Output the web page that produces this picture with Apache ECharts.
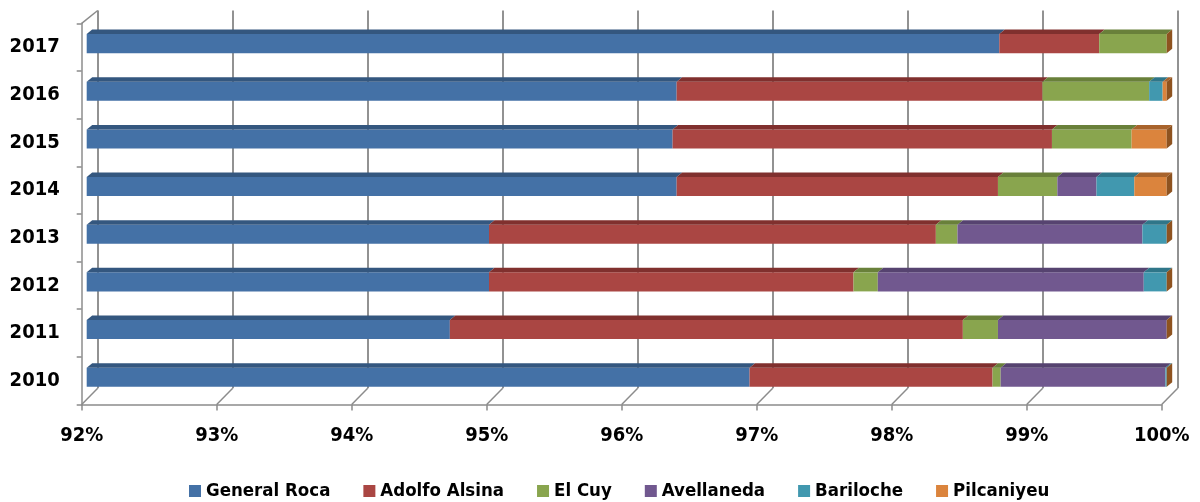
<!DOCTYPE html>
<html>
<head>
<meta charset="utf-8">
<script src="https://cdn.jsdelivr.net/npm/echarts@6/dist/echarts.min.js"></script>
<style>
  html, body { margin: 0; padding: 0; background: #fff; }
  #chart { width: 1200px; height: 502px; }
</style>
</head>
<body>
<div id="chart"></div>
<script>
// ---- data ----
const years = ['2010', '2011', '2012', '2013', '2014', '2015', '2016', '2017'];
const seriesNames = ['General Roca', 'Adolfo Alsina', 'El Cuy', 'Avellaneda', 'Bariloche', 'Pilcaniyeu'];
const generalRoca  = [96.91, 94.69, 94.98, 94.98, 96.37, 96.34, 96.37, 98.76];
const adolfoAlsina = [1.80, 3.80, 2.70, 3.31, 2.38, 2.81, 2.71, 0.74];
const elCuy        = [0.06, 0.26, 0.18, 0.16, 0.44, 0.59, 0.79, 0.50];
const avellaneda   = [1.22, 1.25, 1.97, 1.37, 0.29, 0.00, 0.00, 0.00];
const bariloche    = [0.01, 0.00, 0.17, 0.18, 0.28, 0.00, 0.10, 0.00];
const pilcaniyeu   = [0.00, 0.00, 0.00, 0.00, 0.24, 0.26, 0.03, 0.00];
const xTicks = [92, 93, 94, 95, 96, 97, 98, 99, 100];

const allValues = [generalRoca, adolfoAlsina, elCuy, avellaneda, bariloche, pilcaniyeu];

// ---- styles ----
const frontColors = ['#4471A6', '#AA4643', '#89A54E', '#71588F', '#4198AF', '#DB843D'];
const topColors   = ['#34577F', '#80302E', '#69803A', '#564370', '#2F7689', '#A8632C'];
const sideColors  = ['#2C4A6D', '#6E2826', '#5A6E31', '#4A3960', '#286676', '#8E5320'];
const AXIS_MIN = 92, AXIS_MAX = 100;

function pickFont() {
  const c = document.createElement('canvas').getContext('2d');
  const t = 'General Roca 2017 92%';
  c.font = 'bold 20px monospace';
  const base = c.measureText(t).width;
  c.font = "bold 20px 'Liberation Sans Narrow', monospace";
  const w = c.measureText(t).width;
  let fam = (Math.abs(w - base) > 0.5) ? "'Liberation Sans Narrow'" : "'DejaVu Sans Condensed', 'DejaVu Sans'";
  c.font = 'bold 23px ' + fam;
  const gw = c.measureText('General Roca').width;
  const size = Math.round(23 * 126 / gw * 2) / 2;
  return { fam: fam + ', sans-serif', size: size };
}
const F = pickFont();
const axisFont = Math.round(F.size * 1.08 * 2) / 2;

// stacked segments
function buildSeries(k) {
  const data = years.map((y, i) => {
    let s = 0;
    for (let j = 0; j < k; j++) s += allValues[j][i];
    return [i, s, s + allValues[k][i]];
  });
  return {
    type: 'custom',
    name: seriesNames[k],
    xAxisIndex: 0, yAxisIndex: 0,
    itemStyle: { color: frontColors[k] },
    data: data,
    encode: { x: [1, 2], y: 0 },
    z: 3 + k,
    renderItem: function (params, api) {
      const yi = api.value(0);
      const s = Math.max(api.value(1), AXIS_MIN);
      const e = Math.max(api.value(2), AXIS_MIN);
      const p0 = api.coord([s, yi]);
      const p1 = api.coord([e, yi]);
      const band = api.size([0, 1])[1];
      const h = band * 0.4;
      const ox = 5, oy = -3.5, dx = 5.5, dy = -4.5;
      const x = p0[0] + ox, w = p1[0] - p0[0];
      const y = p0[1] + oy - h / 2;
      const children = [];
      if (w > 0) {
        children.push({ type: 'rect', shape: { x: x, y: y, width: w, height: h },
          style: { fill: frontColors[k] } });
        children.push({ type: 'polygon', shape: { points: [[x, y], [x + dx, y + dy], [x + w + dx, y + dy], [x + w, y]] },
          style: { fill: topColors[k] } });
      }
      if (k === seriesNames.length - 1) {
        children.push({ type: 'polygon', shape: { points: [[x + w, y], [x + w + dx, y + dy], [x + w + dx, y + dy + h], [x + w, y + h]] },
          style: { fill: sideColors[k] } });
      }
      return { type: 'group', children: children };
    }
  };
}

const series = seriesNames.map((n, k) => buildSeries(k));

// floor / wall edge lines of the 3D box
series.push({
  type: 'custom',
  name: 'frame',
  silent: true,
  xAxisIndex: 0, yAxisIndex: 0,
  data: xTicks.map(v => [v]),
  encode: { x: 0 },
  z: 1,
  renderItem: function (params, api) {
    const v = api.value(0);
    const cs = params.coordSys;
    const fx = api.coord([v, 0])[0];
    const bottom = cs.y + cs.height;
    const ls = { stroke: '#8c8c8c', lineWidth: 1.5 };
    const children = [{ type: 'line', shape: { x1: fx, y1: bottom, x2: fx + 16, y2: bottom - 16.2 }, style: ls }];
    if (v === AXIS_MIN) {
      children.push({ type: 'line', shape: { x1: fx, y1: cs.y, x2: fx + 16, y2: cs.y - 12.8 }, style: ls });
    }
    return { type: 'group', children: children };
  }
});

const chart = echarts.init(document.getElementById('chart'), null, { renderer: 'canvas' });
chart.setOption({
  animation: false,
  backgroundColor: '#ffffff',
  grid: [
    { left: 81.7, top: 23.3, width: 1080, height: 381.2, containLabel: false },
    { left: 97.7, top: 10.5, width: 1080, height: 377.8, containLabel: false }
  ],
  xAxis: [
    {
      type: 'value', gridIndex: 0, min: AXIS_MIN, max: AXIS_MAX, interval: 1,
      axisLine: { show: true, lineStyle: { color: '#8c8c8c', width: 1.5 } },
      axisTick: { show: true, length: 6, lineStyle: { color: '#8c8c8c', width: 1.5 } },
      splitLine: { show: false },
      axisLabel: { formatter: '{value}%', margin: 21, color: '#000', fontWeight: 'bold',
        fontSize: axisFont, fontFamily: F.fam }
    },
    {
      type: 'value', gridIndex: 1, min: AXIS_MIN, max: AXIS_MAX, interval: 1,
      axisLine: { show: false }, axisTick: { show: false }, axisLabel: { show: false },
      splitLine: { show: true, lineStyle: { color: '#929292', width: 2 } }
    }
  ],
  yAxis: [
    {
      type: 'category', gridIndex: 0, data: years,
      axisLine: { show: true, lineStyle: { color: '#8c8c8c', width: 1.5 } },
      axisTick: { show: true, length: 5, lineStyle: { color: '#8c8c8c', width: 1.5 } },
      splitLine: { show: false },
      axisLabel: { margin: 22, color: '#000', fontWeight: 'bold', fontSize: axisFont, fontFamily: F.fam }
    },
    {
      type: 'category', gridIndex: 1, data: years, show: false,
      splitLine: { show: false }
    }
  ],
  legend: {
    data: seriesNames,
    left: 184, top: 473,
    itemWidth: 12, itemHeight: 12, itemGap: 33,
    icon: 'rect',
    textStyle: { color: '#000', fontWeight: 'bold', fontSize: F.size, fontFamily: F.fam, lineHeight: 26 }
  },
  series: series
});
</script>
</body>
</html>
